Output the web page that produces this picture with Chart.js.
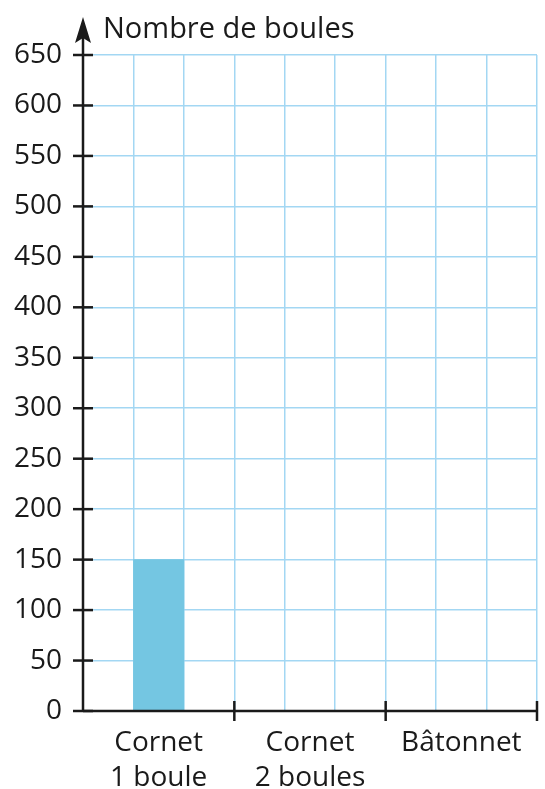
<!DOCTYPE html>
<html>
<head>
<meta charset="utf-8">
<script src="https://cdn.jsdelivr.net/npm/chart.js@4"></script>
<style>
  html, body { margin: 0; padding: 0; background: #fff; }
  #wrap { width: 545px; height: 789px; }
</style>
</head>
<body>
<div id="wrap"><canvas id="chart"></canvas></div>
<script>
// data (only the first bar is filled in)
const categories = [['Cornet', '1 boule'], ['Cornet', '2 boules'], ['Bâtonnet']];
const values = [150, null, null];
const yTicks = [0, 50, 100, 150, 200, 250, 300, 350, 400, 450, 500, 550, 600, 650];
const yTitle = 'Nombre de boules';

// each category is split in 3 grid columns, the bar sits in the middle one
const slotLabels = [];
const slotValues = [];
categories.forEach((c, i) => {
    slotLabels.push('', c, '');
    slotValues.push(null, values[i], null);
});

const gridBlue = '#a3d7f3';
const ink = '#1a1a1a';
const font = '"Open Sans", "Noto Sans", sans-serif';

// black axes, arrow, tick marks and axis title
const axesPlugin = {
    id: 'axes',
    afterDraw(chart) {
        const { ctx, chartArea: a, scales: { x, y } } = chart;
        ctx.save();
        ctx.strokeStyle = ink;
        ctx.fillStyle = ink;
        ctx.lineWidth = 2.5;

        // y axis with arrow
        ctx.beginPath();
        ctx.moveTo(a.left, a.bottom);
        ctx.lineTo(a.left, 30);
        ctx.stroke();
        ctx.beginPath();
        ctx.moveTo(a.left, 17);
        ctx.lineTo(a.left + 8, 43);
        ctx.lineTo(a.left, 38);
        ctx.lineTo(a.left - 8, 43);
        ctx.closePath();
        ctx.fill();

        // x axis
        ctx.beginPath();
        ctx.moveTo(a.left, a.bottom);
        ctx.lineTo(a.right, a.bottom);
        ctx.stroke();

        // y tick marks
        yTicks.forEach(v => {
            const py = y.getPixelForValue(v);
            ctx.beginPath();
            ctx.moveTo(a.left - 10, py);
            ctx.lineTo(a.left + 10, py);
            ctx.stroke();
        });

        // x tick marks at category boundaries
        const half = (x.getPixelForValue(1) - x.getPixelForValue(0)) / 2;
        categories.forEach((c, i) => {
            const px = x.getPixelForValue(i * 3 + 2) + half;
            ctx.beginPath();
            ctx.moveTo(px, a.bottom - 10);
            ctx.lineTo(px, a.bottom + 10);
            ctx.stroke();
        });

        // axis title
        ctx.font = '29px ' + font;
        ctx.textAlign = 'left';
        ctx.textBaseline = 'alphabetic';
        ctx.fillText(yTitle, a.left + 20, 38);
        ctx.restore();
    }
};

new Chart(document.getElementById('chart'), {
    type: 'bar',
    data: {
        labels: slotLabels,
        datasets: [{
            data: slotValues,
            backgroundColor: '#74c6e2',
            barPercentage: 1,
            categoryPercentage: 1
        }]
    },
    plugins: [axesPlugin],
    options: {
        responsive: true,
        maintainAspectRatio: false,
        animation: false,
        layout: { padding: { top: 55, right: 8, left: 0, bottom: 0 } },
        plugins: { legend: { display: false }, tooltip: { enabled: false } },
        scales: {
            x: {
                afterFit: (s) => { s.height = 78; },
                grid: { color: gridBlue, lineWidth: 1.5, offset: true, drawTicks: false },
                border: { display: false },
                ticks: {
                    color: ink,
                    padding: 15,
                    maxRotation: 0,
                    autoSkip: false,
                    font: { family: font, size: 28, lineHeight: 1.25 }
                }
            },
            y: {
                min: 0,
                max: 650,
                afterFit: (s) => { s.width = 83; },
                afterBuildTicks: (s) => { s.ticks = yTicks.map(v => ({ value: v })); },
                grid: { color: gridBlue, lineWidth: 1.5, drawTicks: false },
                border: { display: false },
                ticks: {
                    color: ink,
                    padding: 21,
                    font: { family: font, size: 28 }
                }
            }
        }
    }
});
</script>
</body>
</html>
